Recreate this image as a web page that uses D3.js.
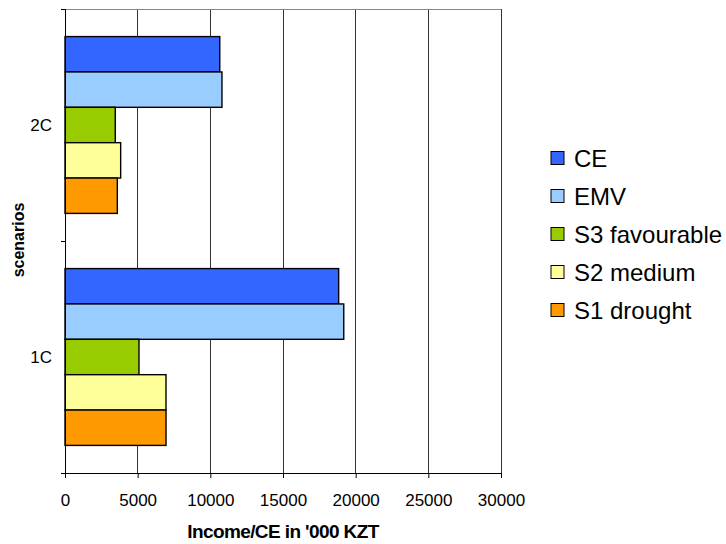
<!DOCTYPE html>
<html><head><meta charset="utf-8">
<script src="https://cdn.jsdelivr.net/npm/d3@7"></script>
<style>body{margin:0;background:#fff}svg{display:block;font-family:"Liberation Sans",Arial,sans-serif}</style>
</head><body><svg id="c" width="726" height="544"></svg>
<script>
const categories = ["2C", "1C"];
const seriesNames = ["CE", "EMV", "S3 favourable", "S2 medium", "S1 drought"];
const seriesColors = ["#3366FF", "#99CCFF", "#99CC00", "#FFFF99", "#FF9900"];
const CE = [10650, 18830];
const EMV = [10800, 19180];
const S3 = [3460, 5090];
const S2 = [3830, 6950];
const S1 = [3600, 6950];
const seriesValues = [CE, EMV, S3, S2, S1];
const xTicks = [0, 5000, 10000, 15000, 20000, 25000, 30000];

const svg = d3.select("#c");
const L = 65, R = 501, T = 9, B = 473;
const x = d3.scaleLinear().domain([0, 30000]).range([L, R]);
const y = d3.scaleBand().domain(categories).range([T, B]);
const ys = d3.scaleBand().domain(seriesNames).range([0, y.bandwidth()]).paddingOuter(0.78);

// gridlines
svg.append("g").selectAll("line").data(xTicks.slice(1)).join("line")
  .attr("x1", d => x(d)).attr("x2", d => x(d)).attr("y1", T).attr("y2", B)
  .attr("stroke", "#333").attr("stroke-width", 1).attr("shape-rendering", "crispEdges");
// top frame
svg.append("line").attr("x1", L).attr("x2", R).attr("y1", T).attr("y2", T)
  .attr("stroke", "#888").attr("shape-rendering", "crispEdges");

// bars
const rows = [];
categories.forEach((c, ci) => seriesNames.forEach((s, si) => rows.push({c, s, si, v: seriesValues[si][ci]})));
svg.append("g").selectAll("rect").data(rows).join("rect")
  .attr("x", x(0)).attr("y", d => y(d.c) + ys(d.s))
  .attr("width", d => x(d.v) - x(0)).attr("height", ys.bandwidth())
  .attr("fill", d => seriesColors[d.si]).attr("stroke", "#000").attr("stroke-width", 1.4);

// x axis
const xa = svg.append("g").attr("transform", `translate(0,${B})`)
  .call(d3.axisBottom(x).tickValues(xTicks).tickFormat(d3.format("d")).tickSize(5).tickPadding(16));
xa.select(".domain").attr("stroke", "#000").attr("d", `M${L-4},0.5H${R}`);
xa.selectAll("text").attr("font-size", 17).attr("fill", "#000").attr("font-family", "Liberation Sans, Arial, sans-serif");

// y axis
const ya = svg.append("g").attr("transform", `translate(${L},0)`)
  .call(d3.axisLeft(d3.scaleLinear().domain([0, 2]).range([B, T])).tickValues([0, 1, 2]).tickFormat("").tickSize(4));
ya.select(".domain").attr("stroke", "#000").attr("d", `M0.5,${T}V${B}`);
svg.append("g").selectAll("text").data(categories).join("text")
  .attr("x", 52).attr("y", d => y(d) + y.bandwidth() / 2 + 6)
  .attr("text-anchor", "end").attr("font-size", 17).text(d => d);

// axis titles
svg.append("text").attr("x", 283).attr("y", 538).attr("text-anchor", "middle")
  .attr("font-size", 19).attr("font-weight", "bold").attr("letter-spacing", -0.6).text("Income/CE in '000 KZT");
svg.append("text").attr("transform", `translate(24,240) rotate(-90)`).attr("text-anchor", "middle")
  .attr("font-size", 16).attr("font-weight", "bold").text("scenarios");

// legend
const lg = svg.append("g").selectAll("g").data(seriesNames).join("g")
  .attr("transform", (d, i) => `translate(551,${158 + i * 38})`);
lg.append("rect").attr("x", 0).attr("y", -6.5).attr("width", 13).attr("height", 13)
  .attr("fill", (d, i) => seriesColors[i]).attr("stroke", "#000").attr("stroke-width", 1);
lg.append("text").attr("x", 23).attr("y", 8.5).attr("font-size", 24).text(d => d);
</script></body></html>
